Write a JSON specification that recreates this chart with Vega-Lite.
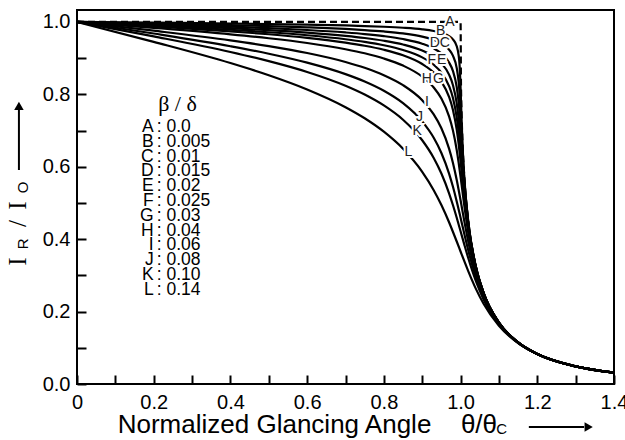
{
"$schema":"https://vega.github.io/schema/vega-lite/v6.json",
"width":537,"height":374,
"autosize":{"type":"none"},
"padding":{"left":77,"top":10,"right":11,"bottom":56},
"background":"white",
"config":{"view":{"stroke":"black","strokeWidth":2}},
"datasets":{
"curves":[
{"c":"A","x":0,"r":1},{"c":"A","x":0.5,"r":1},{"c":"A","x":1.0,"r":1},{"c":"A","x":1.001,"r":0.8362},{"c":"A","x":1.0025,"r":0.7537},{"c":"A","x":1.005,"r":0.6704},{"c":"A","x":1.01,"r":0.5682},{"c":"A","x":1.02,"r":0.4499},{"c":"A","x":1.04,"r":0.3238},{"c":"A","x":1.06,"r":0.2519},{"c":"A","x":1.1,"r":0.1696},{"c":"A","x":1.15,"r":0.1148},{"c":"A","x":1.2,"r":0.083},{"c":"A","x":1.3,"r":0.0485},{"c":"A","x":1.4,"r":0.0312},
{"c":"B","x":0,"r":1},{"c":"B","x":0.2,"r":0.998},{"c":"B","x":0.4,"r":0.9957},{"c":"B","x":0.5,"r":0.9942},{"c":"B","x":0.6,"r":0.9925},{"c":"B","x":0.7,"r":0.9903},{"c":"B","x":0.75,"r":0.9887},{"c":"B","x":0.8,"r":0.9868},{"c":"B","x":0.85,"r":0.984},{"c":"B","x":0.9,"r":0.9796},{"c":"B","x":0.93,"r":0.975},{"c":"B","x":0.95,"r":0.9701},{"c":"B","x":0.97,"r":0.9609},{"c":"B","x":0.98,"r":0.9521},{"c":"B","x":0.99,"r":0.9327},{"c":"B","x":0.995,"r":0.9078},{"c":"B","x":0.9975,"r":0.8795},{"c":"B","x":1.0,"r":0.819},{"c":"B","x":1.0025,"r":0.7331},{"c":"B","x":1.005,"r":0.6628},{"c":"B","x":1.01,"r":0.5659},{"c":"B","x":1.02,"r":0.4493},{"c":"B","x":1.04,"r":0.3236},{"c":"B","x":1.06,"r":0.2518},{"c":"B","x":1.1,"r":0.1696},{"c":"B","x":1.15,"r":0.1148},{"c":"B","x":1.2,"r":0.0829},{"c":"B","x":1.3,"r":0.0485},{"c":"B","x":1.4,"r":0.0312},
{"c":"C","x":0,"r":1},{"c":"C","x":0.2,"r":0.9959},{"c":"C","x":0.4,"r":0.9913},{"c":"C","x":0.5,"r":0.9885},{"c":"C","x":0.6,"r":0.9851},{"c":"C","x":0.7,"r":0.9806},{"c":"C","x":0.75,"r":0.9776},{"c":"C","x":0.8,"r":0.9737},{"c":"C","x":0.85,"r":0.9683},{"c":"C","x":0.9,"r":0.9596},{"c":"C","x":0.93,"r":0.9507},{"c":"C","x":0.95,"r":0.9411},{"c":"C","x":0.97,"r":0.9236},{"c":"C","x":0.98,"r":0.9069},{"c":"C","x":0.99,"r":0.8726},{"c":"C","x":0.995,"r":0.8344},{"c":"C","x":0.9975,"r":0.8014},{"c":"C","x":1.0,"r":0.7544},{"c":"C","x":1.0025,"r":0.6985},{"c":"C","x":1.005,"r":0.645},{"c":"C","x":1.01,"r":0.5593},{"c":"C","x":1.02,"r":0.4474},{"c":"C","x":1.04,"r":0.3232},{"c":"C","x":1.06,"r":0.2517},{"c":"C","x":1.1,"r":0.1696},{"c":"C","x":1.15,"r":0.1148},{"c":"C","x":1.2,"r":0.0829},{"c":"C","x":1.3,"r":0.0485},{"c":"C","x":1.4,"r":0.0312},
{"c":"D","x":0,"r":1},{"c":"D","x":0.2,"r":0.9939},{"c":"D","x":0.4,"r":0.987},{"c":"D","x":0.5,"r":0.9828},{"c":"D","x":0.6,"r":0.9778},{"c":"D","x":0.7,"r":0.971},{"c":"D","x":0.75,"r":0.9666},{"c":"D","x":0.8,"r":0.9608},{"c":"D","x":0.85,"r":0.9528},{"c":"D","x":0.9,"r":0.94},{"c":"D","x":0.93,"r":0.927},{"c":"D","x":0.95,"r":0.9131},{"c":"D","x":0.97,"r":0.8881},{"c":"D","x":0.98,"r":0.8649},{"c":"D","x":0.99,"r":0.8203},{"c":"D","x":0.995,"r":0.7775},{"c":"D","x":0.9975,"r":0.7465},{"c":"D","x":1.0,"r":0.7085},{"c":"D","x":1.0025,"r":0.6661},{"c":"D","x":1.005,"r":0.6239},{"c":"D","x":1.01,"r":0.5498},{"c":"D","x":1.02,"r":0.4444},{"c":"D","x":1.04,"r":0.3225},{"c":"D","x":1.06,"r":0.2514},{"c":"D","x":1.1,"r":0.1695},{"c":"D","x":1.15,"r":0.1147},{"c":"D","x":1.2,"r":0.0829},{"c":"D","x":1.3,"r":0.0485},{"c":"D","x":1.4,"r":0.0312},
{"c":"E","x":0,"r":1},{"c":"E","x":0.2,"r":0.9919},{"c":"E","x":0.4,"r":0.9827},{"c":"E","x":0.5,"r":0.9772},{"c":"E","x":0.6,"r":0.9705},{"c":"E","x":0.7,"r":0.9616},{"c":"E","x":0.75,"r":0.9557},{"c":"E","x":0.8,"r":0.9481},{"c":"E","x":0.85,"r":0.9376},{"c":"E","x":0.9,"r":0.9209},{"c":"E","x":0.93,"r":0.9041},{"c":"E","x":0.95,"r":0.8861},{"c":"E","x":0.97,"r":0.8545},{"c":"E","x":0.98,"r":0.8261},{"c":"E","x":0.99,"r":0.7752},{"c":"E","x":0.995,"r":0.7322},{"c":"E","x":1.0,"r":0.6721},{"c":"E","x":1.005,"r":0.6028},{"c":"E","x":1.01,"r":0.5386},{"c":"E","x":1.02,"r":0.4404},{"c":"E","x":1.04,"r":0.3214},{"c":"E","x":1.06,"r":0.251},{"c":"E","x":1.1,"r":0.1694},{"c":"E","x":1.15,"r":0.1147},{"c":"E","x":1.2,"r":0.0829},{"c":"E","x":1.3,"r":0.0485},{"c":"E","x":1.4,"r":0.0312},
{"c":"F","x":0,"r":1},{"c":"F","x":0.2,"r":0.9898},{"c":"F","x":0.4,"r":0.9784},{"c":"F","x":0.5,"r":0.9716},{"c":"F","x":0.6,"r":0.9632},{"c":"F","x":0.7,"r":0.9522},{"c":"F","x":0.75,"r":0.9449},{"c":"F","x":0.8,"r":0.9356},{"c":"F","x":0.85,"r":0.9226},{"c":"F","x":0.9,"r":0.9022},{"c":"F","x":0.93,"r":0.8817},{"c":"F","x":0.95,"r":0.8601},{"c":"F","x":0.97,"r":0.8229},{"c":"F","x":0.98,"r":0.7905},{"c":"F","x":0.99,"r":0.7363},{"c":"F","x":0.995,"r":0.6948},{"c":"F","x":1.0,"r":0.6418},{"c":"F","x":1.005,"r":0.5829},{"c":"F","x":1.01,"r":0.5266},{"c":"F","x":1.02,"r":0.4356},{"c":"F","x":1.04,"r":0.3202},{"c":"F","x":1.06,"r":0.2505},{"c":"F","x":1.1,"r":0.1693},{"c":"F","x":1.15,"r":0.1147},{"c":"F","x":1.2,"r":0.0829},{"c":"F","x":1.3,"r":0.0485},{"c":"F","x":1.4,"r":0.0312},
{"c":"G","x":0,"r":1},{"c":"G","x":0.2,"r":0.9878},{"c":"G","x":0.4,"r":0.9742},{"c":"G","x":0.5,"r":0.966},{"c":"G","x":0.6,"r":0.956},{"c":"G","x":0.7,"r":0.9429},{"c":"G","x":0.75,"r":0.9343},{"c":"G","x":0.8,"r":0.9232},{"c":"G","x":0.85,"r":0.9079},{"c":"G","x":0.9,"r":0.8839},{"c":"G","x":0.93,"r":0.8601},{"c":"G","x":0.95,"r":0.8352},{"c":"G","x":0.97,"r":0.7931},{"c":"G","x":0.98,"r":0.7578},{"c":"G","x":0.99,"r":0.7024},{"c":"G","x":0.995,"r":0.6631},{"c":"G","x":1.0,"r":0.6158},{"c":"G","x":1.005,"r":0.5644},{"c":"G","x":1.01,"r":0.5144},{"c":"G","x":1.02,"r":0.4303},{"c":"G","x":1.04,"r":0.3186},{"c":"G","x":1.06,"r":0.2499},{"c":"G","x":1.1,"r":0.1691},{"c":"G","x":1.15,"r":0.1146},{"c":"G","x":1.2,"r":0.0829},{"c":"G","x":1.3,"r":0.0485},{"c":"G","x":1.4,"r":0.0312},
{"c":"H","x":0,"r":1},{"c":"H","x":0.2,"r":0.9838},{"c":"H","x":0.4,"r":0.9657},{"c":"H","x":0.5,"r":0.9549},{"c":"H","x":0.6,"r":0.9419},{"c":"H","x":0.7,"r":0.9247},{"c":"H","x":0.75,"r":0.9135},{"c":"H","x":0.8,"r":0.8991},{"c":"H","x":0.85,"r":0.8794},{"c":"H","x":0.9,"r":0.8488},{"c":"H","x":0.93,"r":0.8189},{"c":"H","x":0.95,"r":0.7883},{"c":"H","x":0.97,"r":0.739},{"c":"H","x":0.98,"r":0.7006},{"c":"H","x":0.99,"r":0.646},{"c":"H","x":0.995,"r":0.6113},{"c":"H","x":1.0,"r":0.5724},{"c":"H","x":1.005,"r":0.5313},{"c":"H","x":1.01,"r":0.4907},{"c":"H","x":1.02,"r":0.4185},{"c":"H","x":1.04,"r":0.315},{"c":"H","x":1.06,"r":0.2483},{"c":"H","x":1.1,"r":0.1687},{"c":"H","x":1.15,"r":0.1145},{"c":"H","x":1.2,"r":0.0828},{"c":"H","x":1.3,"r":0.0486},{"c":"H","x":1.4,"r":0.0313},
{"c":"I","x":0,"r":1},{"c":"I","x":0.2,"r":0.9758},{"c":"I","x":0.4,"r":0.9491},{"c":"I","x":0.5,"r":0.9332},{"c":"I","x":0.6,"r":0.9142},{"c":"I","x":0.7,"r":0.8895},{"c":"I","x":0.75,"r":0.8734},{"c":"I","x":0.8,"r":0.853},{"c":"I","x":0.85,"r":0.8254},{"c":"I","x":0.9,"r":0.7837},{"c":"I","x":0.93,"r":0.7445},{"c":"I","x":0.95,"r":0.7063},{"c":"I","x":0.97,"r":0.6501},{"c":"I","x":0.98,"r":0.6113},{"c":"I","x":0.99,"r":0.5634},{"c":"I","x":1.0,"r":0.5074},{"c":"I","x":1.01,"r":0.4485},{"c":"I","x":1.02,"r":0.3935},{"c":"I","x":1.04,"r":0.3057},{"c":"I","x":1.06,"r":0.2443},{"c":"I","x":1.1,"r":0.1677},{"c":"I","x":1.15,"r":0.1144},{"c":"I","x":1.2,"r":0.0828},{"c":"I","x":1.3,"r":0.0487},{"c":"I","x":1.4,"r":0.0314},
{"c":"J","x":0,"r":1},{"c":"J","x":0.2,"r":0.968},{"c":"J","x":0.4,"r":0.9328},{"c":"J","x":0.5,"r":0.9122},{"c":"J","x":0.6,"r":0.8875},{"c":"J","x":0.7,"r":0.8558},{"c":"J","x":0.75,"r":0.8354},{"c":"J","x":0.8,"r":0.8098},{"c":"J","x":0.85,"r":0.7756},{"c":"J","x":0.9,"r":0.7253},{"c":"J","x":0.93,"r":0.68},{"c":"J","x":0.95,"r":0.6381},{"c":"J","x":0.97,"r":0.5812},{"c":"J","x":0.98,"r":0.5453},{"c":"J","x":0.99,"r":0.5043},{"c":"J","x":1.0,"r":0.4595},{"c":"J","x":1.01,"r":0.4135},{"c":"J","x":1.02,"r":0.3696},{"c":"J","x":1.04,"r":0.2951},{"c":"J","x":1.06,"r":0.2393},{"c":"J","x":1.1,"r":0.1663},{"c":"J","x":1.15,"r":0.114},{"c":"J","x":1.2,"r":0.0827},{"c":"J","x":1.3,"r":0.0488},{"c":"J","x":1.4,"r":0.0315},
{"c":"K","x":0,"r":1},{"c":"K","x":0.2,"r":0.9602},{"c":"K","x":0.4,"r":0.917},{"c":"K","x":0.5,"r":0.8917},{"c":"K","x":0.6,"r":0.8619},{"c":"K","x":0.7,"r":0.8238},{"c":"K","x":0.75,"r":0.7995},{"c":"K","x":0.8,"r":0.7694},{"c":"K","x":0.85,"r":0.7299},{"c":"K","x":0.9,"r":0.6733},{"c":"K","x":0.93,"r":0.6244},{"c":"K","x":0.95,"r":0.5814},{"c":"K","x":0.97,"r":0.5267},{"c":"K","x":0.98,"r":0.4944},{"c":"K","x":0.99,"r":0.4592},{"c":"K","x":1.0,"r":0.4219},{"c":"K","x":1.01,"r":0.3843},{"c":"K","x":1.02,"r":0.348},{"c":"K","x":1.04,"r":0.284},{"c":"K","x":1.06,"r":0.2336},{"c":"K","x":1.1,"r":0.1646},{"c":"K","x":1.15,"r":0.1136},{"c":"K","x":1.2,"r":0.0827},{"c":"K","x":1.3,"r":0.0489},{"c":"K","x":1.4,"r":0.0315},
{"c":"L","x":0,"r":1},{"c":"L","x":0.2,"r":0.9451},{"c":"L","x":0.4,"r":0.8865},{"c":"L","x":0.5,"r":0.8528},{"c":"L","x":0.6,"r":0.8135},{"c":"L","x":0.7,"r":0.7645},{"c":"L","x":0.75,"r":0.7339},{"c":"L","x":0.8,"r":0.6968},{"c":"L","x":0.85,"r":0.6497},{"c":"L","x":0.9,"r":0.586},{"c":"L","x":0.93,"r":0.5353},{"c":"L","x":0.95,"r":0.4942},{"c":"L","x":0.97,"r":0.4467},{"c":"L","x":0.98,"r":0.4206},{"c":"L","x":0.99,"r":0.3936},{"c":"L","x":1.0,"r":0.366},{"c":"L","x":1.01,"r":0.3385},{"c":"L","x":1.02,"r":0.3118},{"c":"L","x":1.04,"r":0.2628},{"c":"L","x":1.06,"r":0.2215},{"c":"L","x":1.1,"r":0.1605},{"c":"L","x":1.15,"r":0.1126},{"c":"L","x":1.2,"r":0.0826},{"c":"L","x":1.3,"r":0.0489},{"c":"L","x":1.4,"r":0.0316}
],
"labels":[
{"c":"A","x":0.972,"r":1.0},{"c":"B","x":0.948,"r":0.976},{"c":"C","x":0.959,"r":0.941},{"c":"D","x":0.933,"r":0.941},{"c":"E","x":0.951,"r":0.895},{"c":"F","x":0.925,"r":0.895},{"c":"G","x":0.942,"r":0.842},{"c":"H","x":0.912,"r":0.842},{"c":"I","x":0.912,"r":0.78},{"c":"J","x":0.893,"r":0.737},{"c":"K","x":0.887,"r":0.7},{"c":"L","x":0.864,"r":0.64}
],
"legend":[
{"c":"A","v":": 0.0","x":0.204,"r":0.7099},{"c":"B","v":": 0.005","x":0.204,"r":0.6691},{"c":"C","v":": 0.01","x":0.204,"r":0.6282},{"c":"D","v":": 0.015","x":0.204,"r":0.5873},{"c":"E","v":": 0.02","x":0.204,"r":0.5464},{"c":"F","v":": 0.025","x":0.204,"r":0.5055},{"c":"G","v":": 0.03","x":0.204,"r":0.4646},{"c":"H","v":": 0.04","x":0.204,"r":0.4238},{"c":"I","v":": 0.06","x":0.204,"r":0.3829},{"c":"J","v":": 0.08","x":0.204,"r":0.342},{"c":"K","v":": 0.10","x":0.204,"r":0.3011},{"c":"L","v":": 0.14","x":0.204,"r":0.2602}
],
"legendTitle":[{"t":"β / δ","x":0.262,"r":0.7735}],
"xtitleMain":[{"t":"Normalized Glancing Angle","x":0.515,"r":-0.135},{"t":"θ/θ","x":1.048,"r":-0.135}],
"xtitleSub":[{"t":"C","x":1.107,"r":-0.137}],
"ytitleMain":[{"t":"I","x":-0.154,"r":0.338},{"t":"/","x":-0.154,"r":0.443},{"t":"I","x":-0.154,"r":0.493}],
"ytitleSub":[{"t":"R","x":-0.141,"r":0.387},{"t":"O","x":-0.141,"r":0.543}],
"arrowShafts":[{"x":1.178,"x2":1.322,"r":-0.119,"r2":-0.119},{"x":-0.1514,"x2":-0.1514,"r":0.591,"r2":0.758}],
"arrowHeadX":[{"x":1.334,"r":-0.119}],
"arrowHeadY":[{"x":-0.1514,"r":0.768}]
},
"encoding":{
"x":{"field":"x","type":"quantitative","scale":{"domain":[0,1.4],"nice":false,"zero":false},
"axis":{"title":null,"values":[0,0.1,0.2,0.3,0.4,0.5,0.6,0.7,0.8,0.9,1.0,1.1,1.2,1.3,1.4],"labelExpr":"round(datum.value*10)%2==0 ? (datum.value==0 ? '0' : format(datum.value,'.1f')) : ''","tickSize":-9,"tickWidth":2,"tickColor":"black","domain":false,"grid":false,"labelFont":"Liberation Sans","labelFontSize":20,"labelColor":"black","labelPadding":17,"labelOverlap":false,"labelFlush":false,"labelBound":false}},
"y":{"field":"r","type":"quantitative","scale":{"domain":[0,1.033],"nice":false,"zero":false},
"axis":{"title":null,"values":[0,0.1,0.2,0.3,0.4,0.5,0.6,0.7,0.8,0.9,1.0],"labelExpr":"round(datum.value*10)%2==0 ? format(datum.value,'.1f') : ''","tickSize":-9,"tickWidth":2,"tickColor":"black","domain":false,"grid":false,"labelFont":"Liberation Sans","labelFontSize":20,"labelColor":"black","labelPadding":16,"labelOverlap":false,"labelBound":false}}
},
"layer":[
{"data":{"name":"curves"},"transform":[{"filter":"datum.c != 'A'"}],
"mark":{"type":"line","color":"black","strokeWidth":2.2,"interpolate":"monotone"},
"encoding":{"detail":{"field":"c","type":"nominal"}}},
{"data":{"name":"curves"},"transform":[{"filter":"datum.c == 'A'"}],
"mark":{"type":"line","color":"black","strokeWidth":2.2,"strokeDash":[7,4],"interpolate":"monotone"},
"encoding":{"detail":{"field":"c","type":"nominal"}}},
{"data":{"name":"labels"},"mark":{"type":"text","font":"Liberation Sans","fontSize":14,"fill":"white","stroke":"white","strokeWidth":4,"align":"center","baseline":"middle"},"encoding":{"text":{"field":"c"}}},
{"data":{"name":"labels"},"mark":{"type":"text","font":"Liberation Sans","fontSize":14,"fill":"#222","align":"center","baseline":"middle"},"encoding":{"text":{"field":"c"}}},
{"data":{"name":"legendTitle"},"mark":{"type":"text","font":"Liberation Serif","fontSize":22,"fill":"black","align":"center","baseline":"middle"},"encoding":{"text":{"field":"t"}}},
{"data":{"name":"legend"},"mark":{"type":"text","font":"Liberation Sans","fontSize":17.5,"fill":"black","align":"right","baseline":"middle","dx":-1.5},"encoding":{"text":{"field":"c"}}},
{"data":{"name":"legend"},"mark":{"type":"text","font":"Liberation Sans","fontSize":17.5,"fill":"black","align":"left","baseline":"middle","dx":1.5},"encoding":{"text":{"field":"v"}}},
{"data":{"name":"xtitleMain"},"mark":{"type":"text","font":"Liberation Sans","fontSize":26,"fill":"black","align":"center","baseline":"alphabetic"},"encoding":{"text":{"field":"t"}}},
{"data":{"name":"xtitleSub"},"mark":{"type":"text","font":"Liberation Sans","fontSize":15,"fill":"black","align":"center","baseline":"alphabetic"},"encoding":{"text":{"field":"t"}}},
{"data":{"name":"ytitleMain"},"mark":{"type":"text","font":"Liberation Serif","fontSize":25,"fill":"black","align":"center","baseline":"middle","angle":270},"encoding":{"text":{"field":"t"}}},
{"data":{"name":"ytitleSub"},"mark":{"type":"text","font":"Liberation Sans","fontSize":15,"fill":"black","align":"center","baseline":"middle","angle":270},"encoding":{"text":{"field":"t"}}},
{"data":{"name":"arrowShafts"},"mark":{"type":"rule","color":"black","strokeWidth":2},"encoding":{"x2":{"field":"x2"},"y2":{"field":"r2"}}},
{"data":{"name":"arrowHeadX"},"mark":{"type":"point","shape":"triangle-right","filled":true,"color":"black","size":90,"opacity":1}},
{"data":{"name":"arrowHeadY"},"mark":{"type":"point","shape":"triangle-up","filled":true,"color":"black","size":90,"opacity":1}}
]
}
